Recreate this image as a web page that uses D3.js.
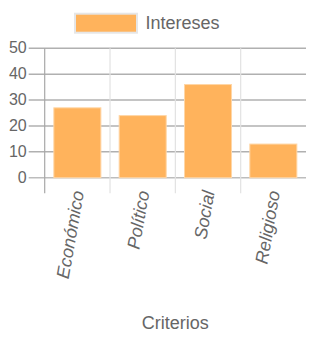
<!DOCTYPE html>
<html>
<head>
<meta charset="utf-8">
<script src="https://cdn.jsdelivr.net/npm/d3@7"></script>
<style>
  body { margin: 0; background: #fff; }
  text { font-family: "Liberation Sans", Arial, Helvetica, sans-serif; fill: #666; }
</style>
</head>
<body>
<div id="chart"></div>
<script>
// data
var criterios = ["Económico", "Político", "Social", "Religioso"];
var intereses = [27, 24, 36, 13];
var yTicks = [0, 10, 20, 30, 40, 50];
var seriesName = "Intereses";
var xTitle = "Criterios";

var W = 310, H = 340;
var margin = { top: 48.3, right: 4, bottom: 162.3, left: 44.7 };
var width = W - margin.left - margin.right,
    height = H - margin.top - margin.bottom;

var svg = d3.select("#chart").append("svg")
    .attr("width", W)
    .attr("height", H);

var g = svg.append("g")
    .attr("transform", "translate(" + margin.left + "," + margin.top + ")");

var x = d3.scaleBand().domain(criterios).range([0, width]).padding(0);
var y = d3.scaleLinear().domain([0, 50]).range([height, 0]);

// horizontal grid + left ticks
g.append("g")
    .selectAll("line")
    .data(yTicks)
    .enter().append("line")
    .attr("x1", -16)
    .attr("x2", width)
    .attr("y1", function (d) { return y(d); })
    .attr("y2", function (d) { return y(d); })
    .attr("stroke", function (d) { return d === 0 ? "#bdbdbd" : "#b0b0b0"; })
    .attr("stroke-width", 1.4);

// vertical grid at category edges, extended below axis as ticks
var edges = criterios.map(function (c) { return x(c); });
g.append("g")
    .selectAll("line")
    .data(edges)
    .enter().append("line")
    .attr("x1", function (d) { return d; })
    .attr("x2", function (d) { return d; })
    .attr("y1", 0)
    .attr("y2", height + 15.5)
    .attr("stroke", function (d, i) { return i === 0 ? "#a8a8a8" : "#e2e2e2"; })
    .attr("stroke-width", 1.2);

// y labels
var yAxis = d3.axisLeft(y).tickValues(yTicks).tickSize(0).tickPadding(18);
var ya = g.append("g").call(yAxis);
ya.select(".domain").remove();
ya.selectAll("text")
    .style("font-size", "16px")
    .attr("fill", "#666")
    .attr("dy", "0.28em");

// bars
var bw = x.bandwidth() * 0.72;
g.append("g")
    .selectAll("rect")
    .data(intereses)
    .enter().append("rect")
    .attr("x", function (d, i) { return x(criterios[i]) + (x.bandwidth() - bw) / 2; })
    .attr("y", function (d) { return y(d); })
    .attr("width", bw)
    .attr("height", function (d) { return height - y(d); })
    .attr("fill", "#ffb35c")
    .attr("stroke", "#ffd6a6")
    .attr("stroke-width", 1);

// x labels, rotated
g.append("g")
    .selectAll("text")
    .data(criterios)
    .enter().append("text")
    .attr("transform", function (d) {
        return "translate(" + (x(d) + x.bandwidth() / 2 + 0.5) + "," + (height + 13) + ")rotate(-80)";
    })
    .attr("text-anchor", "end")
    .attr("dy", "0.35em")
    .style("font-size", "18px")
    .style("font-style", "italic")
    .text(function (d) { return d; });

// x title
svg.append("text")
    .attr("x", margin.left + width / 2)
    .attr("y", 329)
    .attr("text-anchor", "middle")
    .style("font-size", "18px")
    .text(xTitle);

// legend
svg.append("rect")
    .attr("x", 75)
    .attr("y", 13.7)
    .attr("width", 62)
    .attr("height", 19)
    .attr("fill", "#ffb35c")
    .attr("stroke", "#e6e6e6")
    .attr("stroke-width", 2);

svg.append("text")
    .attr("x", 145.5)
    .attr("y", 29.3)
    .style("font-size", "18px")
    .text(seriesName);
</script>
</body>
</html>
